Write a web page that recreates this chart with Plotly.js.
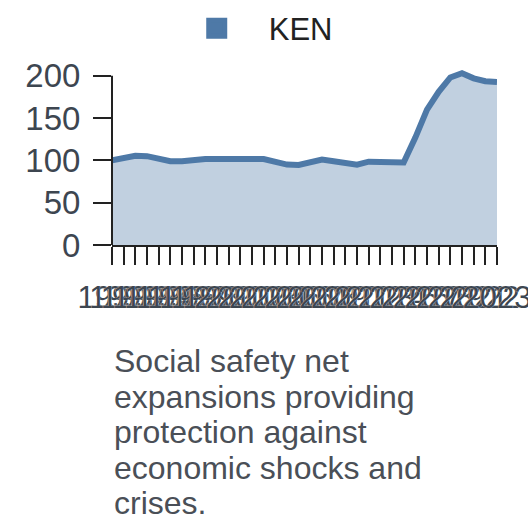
<!DOCTYPE html>
<html>
<head>
<meta charset="utf-8">
<script src="https://cdn.plot.ly/plotly-3.0.1.min.js"></script>
<style>html,body{margin:0;padding:0;background:#fff;}#chart{width:528px;height:528px;}</style>
</head>
<body>
<div id="chart"></div>
<script>
const years = [1990,1991,1992,1993,1994,1995,1996,1997,1998,1999,2000,2001,2002,2003,2004,2005,2006,2007,2008,2009,2010,2011,2012,2013,2014,2015,2016,2017,2018,2019,2020,2021,2022,2023];
const kenValues = [100,103.5,105.5,105,102.5,99,99,101,101.5,101.5,102,102.5,101.5,101.5,98.5,95,94.5,97,101,99,96.5,95,98.5,98.5,98.5,97.5,127,160,181,198,203,197,193.5,192.5];
const seriesName = "KEN";
const yTicks = [0,50,100,150,200];
const captionLines = ["Social safety net","expansions providing","protection against","economic shocks and","crises."];

const lineColor = "#4e79a7";
const fillColor = "rgba(78,121,167,0.35)";
const axisColor = "#222";
const font = "Liberation Sans, Arial, sans-serif";
const halo = "0 0 1px #fff";
const yTop = 208; // headroom so the line is not clipped above the top tick

const traces = [
  {
    x: years, y: kenValues, type: "scatter", mode: "lines",
    fill: "tozeroy", fillcolor: fillColor,
    line: {color: lineColor, width: 6},
    showlegend: false, hoverinfo: "skip"
  },
  {
    x: [null], y: [null], type: "scatter", mode: "markers", name: seriesName,
    marker: {symbol: "square", size: 16, color: lineColor, line: {color: lineColor, width: 5}},
    showlegend: true
  }
];

const annotations = captionLines.map((t, i) => ({
  text: t, xref: "paper", yref: "paper", x: 0, y: 0, yshift: -(116 + i * 35.6),
  xanchor: "left", yanchor: "middle", showarrow: false, align: "left",
  font: {family: font, size: 32, color: "#4a4f57"}
}));

const shapes = [{
  type: "line", xref: "paper", yref: "y", x0: 0, x1: 0,
  y0: yTicks[0], y1: yTicks[yTicks.length - 1],
  line: {color: axisColor, width: 2}
}];

const layout = {
  width: 528, height: 528,
  margin: {l: 112, r: 31, t: 69, b: 283},
  paper_bgcolor: "#fff", plot_bgcolor: "#fff",
  showlegend: true,
  legend: {
    orientation: "h", xref: "container", yref: "container",
    x: 0.312, xanchor: "left", y: 0.946, yanchor: "middle",
    itemwidth: 94, font: {family: font, size: 31, color: "#222"}
  },
  xaxis: {
    type: "linear", range: [1990, 2023], tickmode: "array", tickvals: years,
    ticktext: years.map(String), tickangle: 0, ticklabeloverflow: "allow",
    ticks: "outside", ticklen: 18, tickwidth: 2, tickcolor: axisColor,
    showline: true, linecolor: axisColor, linewidth: 2, showgrid: false, zeroline: false,
    tickfont: {family: font, size: 31, color: "#3d4650", shadow: halo}, ticklabelstandoff: 6
  },
  yaxis: {
    range: [0, yTop], tickmode: "array", tickvals: yTicks,
    ticks: "outside", ticklen: 18, tickwidth: 2, tickcolor: axisColor,
    showline: false, showgrid: false, zeroline: false,
    tickfont: {family: font, size: 33, color: "#3d4650"}, ticklabelstandoff: 6
  },
  shapes: shapes,
  annotations: annotations
};

Plotly.newPlot("chart", traces, layout, {displayModeBar: false, staticPlot: true});
</script>
</body>
</html>
